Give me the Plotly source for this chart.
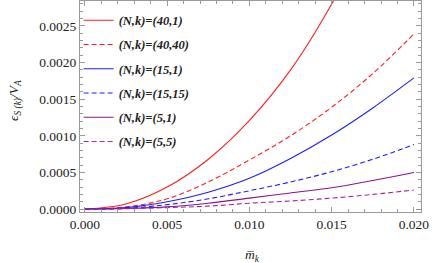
import plotly.graph_objects as go

m_k = [0.0, 0.0025, 0.005, 0.0075, 0.010, 0.0125, 0.015, 0.0175, 0.020]

eps_40_1 = [0.0, 0.00007, 0.00030, 0.00068, 0.00121, 0.00190, 0.00280, 0.00390, 0.00510]
eps_40_40 = [0.0, 0.00003, 0.00014, 0.00037, 0.00067, 0.00100, 0.00139, 0.00185, 0.00239]
eps_15_1 = [0.0, 0.00002, 0.00010, 0.00023, 0.00042, 0.00069, 0.00101, 0.00138, 0.00179]
eps_15_15 = [0.0, 0.00001, 0.00006, 0.00014, 0.00025, 0.00037, 0.00051, 0.00068, 0.00088]
eps_5_1 = [0.0, 0.000008, 0.00003, 0.00008, 0.00015, 0.00022, 0.00029, 0.00039, 0.00050]
eps_5_5 = [0.0, 0.000004, 0.00002, 0.00004, 0.00008, 0.00011, 0.00015, 0.00020, 0.00026]

labels = ["(N,k)=(40,1)", "(N,k)=(40,40)", "(N,k)=(15,1)",
          "(N,k)=(15,15)", "(N,k)=(5,1)", "(N,k)=(5,5)"]

x_title = "m&#773;<sub>k</sub>"
y_title = "ϵ<sub>S (k)</sub>/V<sub>A</sub>"

series = [eps_40_1, eps_40_40, eps_15_1, eps_15_15, eps_5_1, eps_5_5]
colors = ["rgb(255,30,30)", "rgb(255,30,30)", "rgb(30,30,255)", "rgb(30,30,255)",
          "rgb(140,20,140)", "rgb(160,40,160)"]
dashes = ["solid", "5px,3px", "solid", "5px,3px", "solid", "5px,3px"]

SERIF = "Liberation Serif"

fig = go.Figure()
for i, (ys, lab) in enumerate(zip(series, labels)):
    fig.add_trace(go.Scatter(
        x=m_k, y=ys, mode="lines", name="<b><i>" + lab + "</i></b>",
        legendgroup=str(i),
        line=dict(color=colors[i], width=1.1, dash=dashes[i], shape="spline"),
    ))

axis_common = dict(
    showline=True, linecolor="#9a9a9a", linewidth=1, mirror="allticks",
    ticks="inside", ticklen=5, tickcolor="#9a9a9a", tickwidth=1,
    showgrid=False, zeroline=False, automargin=False,
    tickfont=dict(family=SERIF, size=13.5, color="#222"),
)

fig.update_xaxes(
    range=[-0.0003, 0.02043], tickvals=[0.0, 0.005, 0.01, 0.015, 0.02],
    tickformat=".3f",
    minor=dict(ticks="inside", ticklen=3, tickcolor="#9a9a9a", dtick=0.001, tick0=0, showgrid=False),
    **axis_common,
)
fig.update_yaxes(
    range=[-0.00004, 0.00284], tickvals=[0.0, 0.0005, 0.001, 0.0015, 0.002, 0.0025],
    tickformat=".4f",
    minor=dict(ticks="inside", ticklen=3, tickcolor="#9a9a9a", dtick=0.0001, tick0=0, showgrid=False),
    **axis_common,
)

fig.update_layout(
    width=436, height=263,
    margin=dict(l=80, r=15, t=1, b=51),
    paper_bgcolor="white", plot_bgcolor="white",
    font=dict(family=SERIF),
    showlegend=True,
    legend=dict(x=-0.004, y=0.978, xanchor="left", yanchor="top",
                bgcolor="rgba(255,255,255,0)", tracegroupgap=5,
                font=dict(family=SERIF, size=12.5, color="#222"),
                itemwidth=30),
    annotations=[
        dict(text="<i>" + x_title + "</i>", xref="paper", yref="paper",
             x=(252 - 80) / 341, y=-43 / 211, xanchor="center", yanchor="middle",
             showarrow=False, font=dict(family=SERIF, size=13.5, color="#222")),
        dict(text="<i>" + y_title + "</i>", xref="paper", yref="paper",
             x=-65 / 341, y=(211 - 100) / 211, xanchor="center", yanchor="middle",
             textangle=-90, showarrow=False, font=dict(family=SERIF, size=13.5, color="#222")),
    ],
)

fig.write_html("out.html", config={"displayModeBar": False},
               post_script="document.body.style.margin='0';")
